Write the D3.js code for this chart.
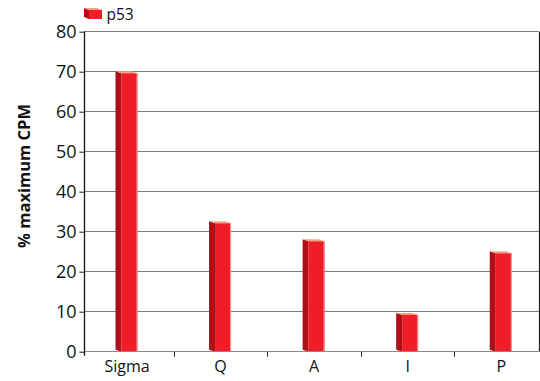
<!DOCTYPE html>
<html>
<head>
<meta charset="utf-8">
<script src="https://cdn.jsdelivr.net/npm/d3@7/dist/d3.min.js"></script>
<style>
  html, body { margin: 0; padding: 0; background: #fff; }
  svg { display: block; font-family: "Open Sans", "Noto Sans", sans-serif; }
</style>
</head>
<body>
<svg id="chart" width="540" height="381"></svg>
<script>
// Data
const categories = ["Sigma", "Q", "A", "I", "P"];
const p53Values = [69.6, 32.1, 27.6, 9.2, 24.6];
const yTicks = [0, 10, 20, 30, 40, 50, 60, 70, 80];
const seriesName = "p53";
const yTitle = "% maximum CPM";

(function draw() {
  const svg = d3.select("#chart");

  // Plot frame
  const plotL = 84, plotR = 539, plotT = 31.7, plotB = 351.7;

  const y = d3.scaleLinear().domain([0, 80]).range([plotB, plotT]);
  const x = d3.scaleBand().domain(categories).range([80.2, 548]).padding(0);

  const crisp = v => Math.round(v) + 0.5;

  // Gridlines
  svg.append("g").selectAll("line")
    .data(yTicks.filter(t => t > 0))
    .join("line")
    .attr("x1", plotL).attr("x2", plotR)
    .attr("y1", d => crisp(y(d) - 0.5)).attr("y2", d => crisp(y(d) - 0.5))
    .attr("stroke", "#7a7a7a").attr("stroke-width", 1);

  // Right border
  svg.append("line")
    .attr("x1", plotR + 0.5).attr("x2", plotR + 0.5)
    .attr("y1", plotT).attr("y2", plotB)
    .attr("stroke", "#222").attr("stroke-width", 1.2);

  // 3D-style columns
  const depthX = 6, depthY = 2, frontW = 16;
  const bars = svg.append("g").selectAll("g")
    .data(categories.map((c, i) => ({ c, v: p53Values[i] })))
    .join("g");

  bars.each(function(d) {
    const g = d3.select(this);
    const cx = x(d.c) + x.bandwidth() / 2;
    const x0 = cx - 5.5, x1 = x0 + frontW;
    const yt = y(d.v), yb = y(0);
    // side face
    g.append("path")
      .attr("d", `M${x0},${yt} L${x0 - depthX},${yt - depthY} L${x0 - depthX},${yb - depthY} L${x0},${yb} Z`)
      .attr("fill", "#b00f19");
    // top face
    g.append("path")
      .attr("d", `M${x0 - depthX},${yt - depthY} L${x1 - depthX},${yt - depthY} L${x1},${yt} L${x0},${yt} Z`)
      .attr("fill", "#f2a384");
    // front face
    g.append("rect")
      .attr("x", x0).attr("y", yt)
      .attr("width", frontW).attr("height", yb - yt)
      .attr("fill", "#ee1d27");
    // highlight edge
    g.append("line")
      .attr("x1", x1 - 0.5).attr("x2", x1 - 0.5)
      .attr("y1", yt).attr("y2", yb)
      .attr("stroke", "#f6a3a6").attr("stroke-width", 1);
  });

  // X axis line (gray) with ticks between categories
  svg.append("line")
    .attr("x1", plotL).attr("x2", plotR + 1)
    .attr("y1", crisp(plotB - 0.5)).attr("y2", crisp(plotB - 0.5))
    .attr("stroke", "#8a8a8a").attr("stroke-width", 1.2);

  const boundaries = categories.slice(1).map(c => x(c));
  svg.append("g").selectAll("line")
    .data(boundaries)
    .join("line")
    .attr("x1", d => crisp(d)).attr("x2", d => crisp(d))
    .attr("y1", plotB).attr("y2", plotB + 5)
    .attr("stroke", "#222").attr("stroke-width", 1);

  // X labels
  svg.append("g").selectAll("text")
    .data(categories)
    .join("text")
    .attr("x", d => x(d) + x.bandwidth() / 2)
    .attr("y", 372)
    .attr("text-anchor", "middle")
    .attr("font-size", 16)
    .attr("fill", "#111")
    .text(d => d);

  // Y axis
  const yAxis = d3.axisLeft(y).tickValues(yTicks).tickSize(5).tickPadding(3);
  const yg = svg.append("g").attr("transform", `translate(${plotL + 0.5},0)`).call(yAxis);
  yg.select(".domain").attr("stroke", "#111").attr("stroke-width", 1.3)
    .attr("d", `M0,${plotT}V${plotB + 4}`);
  yg.selectAll(".tick line").attr("stroke", "#111");
  yg.selectAll(".tick text")
    .attr("font-size", 18)
    .attr("font-family", "\"Open Sans\", \"Noto Sans\", sans-serif")
    .attr("fill", "#111");

  // Y title
  svg.append("text")
    .attr("transform", `translate(29.5,176) rotate(-90)`)
    .attr("text-anchor", "middle")
    .attr("font-size", 16.5)
    .attr("font-weight", "bold")
    .attr("fill", "#111")
    .text(yTitle);

  // Legend
  const lg = svg.append("g");
  lg.append("path").attr("d", "M84,8 L89,10 L89,19 L84,17 Z").attr("fill", "#b00f19");
  lg.append("path").attr("d", "M84,8 L97,8 L102,10 L89,10 Z").attr("fill", "#f2a384");
  lg.append("rect").attr("x", 89).attr("y", 10).attr("width", 13).attr("height", 9).attr("fill", "#ee1d27");
  lg.append("text").attr("x", 106.5).attr("y", 19.5)
    .attr("font-size", 15.5).attr("fill", "#111").text(seriesName);
})();
</script>
</body>
</html>
